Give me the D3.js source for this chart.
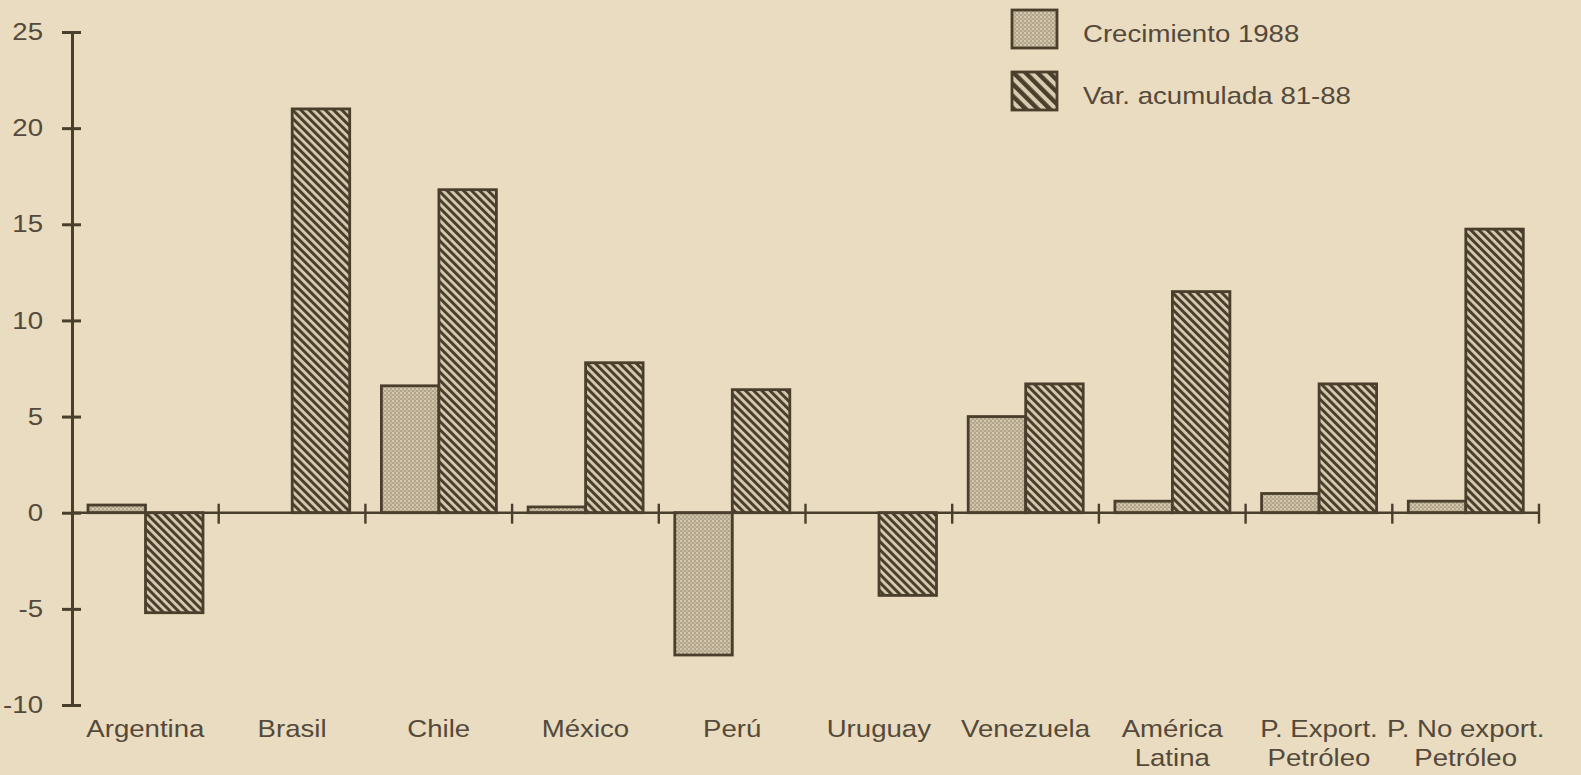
<!DOCTYPE html>
<html>
<head>
<meta charset="utf-8">
<script src="https://cdn.jsdelivr.net/npm/d3@7"></script>
<style>
  html, body { margin: 0; padding: 0; background: #eadcc0; }
  svg { display: block; }
  text { font-family: "Liberation Sans", Arial, Helvetica, sans-serif; fill: #54493a; }
</style>
</head>
<body>
<svg id="chart" width="1581" height="775"></svg>
<script>
// ---- data ----
const categories = ["Argentina", "Brasil", "Chile", "México", "Perú", "Uruguay", "Venezuela", "América\nLatina", "P. Export.\nPetróleo", "P. No export.\nPetróleo"];
const seriesNames = ["Crecimiento 1988", "Var. acumulada 81-88"];
const crecimiento1988 = [0.4, 0, 6.6, 0.3, -7.4, 0, 5.0, 0.6, 1.0, 0.6];
const varAcumulada8188 = [-5.2, 21.0, 16.8, 7.8, 6.4, -4.3, 6.7, 11.5, 6.7, 14.75];
const yTicks = [-10, -5, 0, 5, 10, 15, 20, 25];

// ---- styles ----
const INK = "#4a3f2c";
const TEXT = "#54493a";
const SX = 1.15; // horizontal stretch of the scanned type
const FS = 24;

const svg = d3.select("#chart");
const W = 1581, H = 775;
svg.append("rect").attr("width", W).attr("height", H).attr("fill", "#eadcc0");

// patterns
const defs = svg.append("defs");
const stip = defs.append("pattern").attr("id", "stipple").attr("patternUnits", "userSpaceOnUse")
  .attr("width", 4).attr("height", 4);
stip.append("rect").attr("width", 4).attr("height", 4).attr("fill", "#b2a58c");
stip.append("rect").attr("x", 0).attr("y", 0).attr("width", 2).attr("height", 2).attr("fill", "#d3c7ad");
stip.append("rect").attr("x", 2).attr("y", 2).attr("width", 2).attr("height", 2).attr("fill", "#c6baa0");

function hatch(id, size, lw) {
  const p = defs.append("pattern").attr("id", id).attr("patternUnits", "userSpaceOnUse")
    .attr("width", size).attr("height", size).attr("patternTransform", "rotate(-45)");
  p.append("rect").attr("width", size).attr("height", size).attr("fill", "#d7cbb0");
  p.append("rect").attr("x", 0).attr("y", 0).attr("width", lw).attr("height", size).attr("fill", INK);
}
hatch("hatch", 5.8, 3.0);
hatch("hatchBig", 8.5, 4.5);

const fills = ["url(#stipple)", "url(#hatch)"];
const legendFills = ["url(#stipple)", "url(#hatchBig)"];

// ---- scales ----
const x0 = d3.scaleBand().domain(categories).range([72, 1539]).paddingInner(0).paddingOuter(0);
const x1 = d3.scaleBand().domain(seriesNames).range([16, 131]);
const y = d3.scaleLinear().domain([-10, 25]).range([705, 32]);

// ---- bars ----
const rows = categories.map((c, i) => ({ c, vals: [crecimiento1988[i], varAcumulada8188[i]] }));
const g = svg.append("g");
rows.forEach(r => {
  r.vals.forEach((v, j) => {
    if (v === 0) return;
    g.append("rect")
      .attr("x", x0(r.c) + x1(seriesNames[j]))
      .attr("width", x1.bandwidth())
      .attr("y", y(Math.max(0, v)))
      .attr("height", Math.abs(y(v) - y(0)))
      .attr("fill", fills[j])
      .attr("stroke", INK)
      .attr("stroke-width", 2.8);
  });
});

// ---- x axis (zero line with boundary ticks) ----
svg.append("line")
  .attr("x1", x0.range()[0]).attr("x2", x0.range()[1])
  .attr("y1", y(0)).attr("y2", y(0))
  .attr("stroke", INK).attr("stroke-width", 2.5);
categories.forEach(c => {
  const xt = x0(c) + x0.bandwidth();
  svg.append("line").attr("x1", xt).attr("x2", xt)
    .attr("y1", y(0) - 9).attr("y2", y(0) + 11)
    .attr("stroke", INK).attr("stroke-width", 2.4);
});

// x labels
categories.forEach(c => {
  const lines = c.split("\n");
  const cx = x0(c) + x0.bandwidth() / 2;
  lines.forEach((ln, k) => {
    svg.append("text")
      .attr("transform", `translate(${cx},${737 + k * 29}) scale(${SX},1)`)
      .attr("text-anchor", "middle")
      .attr("font-size", FS)
      .text(ln);
  });
});

// ---- y axis ----
const yAxis = d3.axisLeft(y).tickValues(yTicks).tickFormat(d => String(d))
  .tickSizeOuter(0).tickSizeInner(10).tickPadding(0);
const ya = svg.append("g").attr("transform", "translate(72,0)").call(yAxis);
ya.select(".domain").attr("stroke", INK).attr("stroke-width", 3);
ya.selectAll(".tick line").attr("x1", 9).attr("x2", -10).attr("stroke", INK).attr("stroke-width", 3);
ya.selectAll(".tick text")
  .attr("x", -29 / SX)
  .attr("dy", "0.32em")
  .attr("transform", `scale(${SX},1)`)
  .attr("font-size", FS)
  .attr("font-family", "Liberation Sans, Arial, sans-serif")
  .attr("fill", TEXT)
  .attr("text-anchor", "end");

// ---- legend ----
seriesNames.forEach((s, j) => {
  const ly = 10 + j * 62;
  svg.append("rect")
    .attr("x", 1012).attr("y", ly).attr("width", 45).attr("height", 38)
    .attr("fill", legendFills[j]).attr("stroke", INK).attr("stroke-width", 2.8);
  svg.append("text")
    .attr("transform", `translate(${1083},${ly + 32}) scale(${SX},1)`)
    .attr("font-size", FS)
    .text(s);
});
</script>
</body>
</html>
